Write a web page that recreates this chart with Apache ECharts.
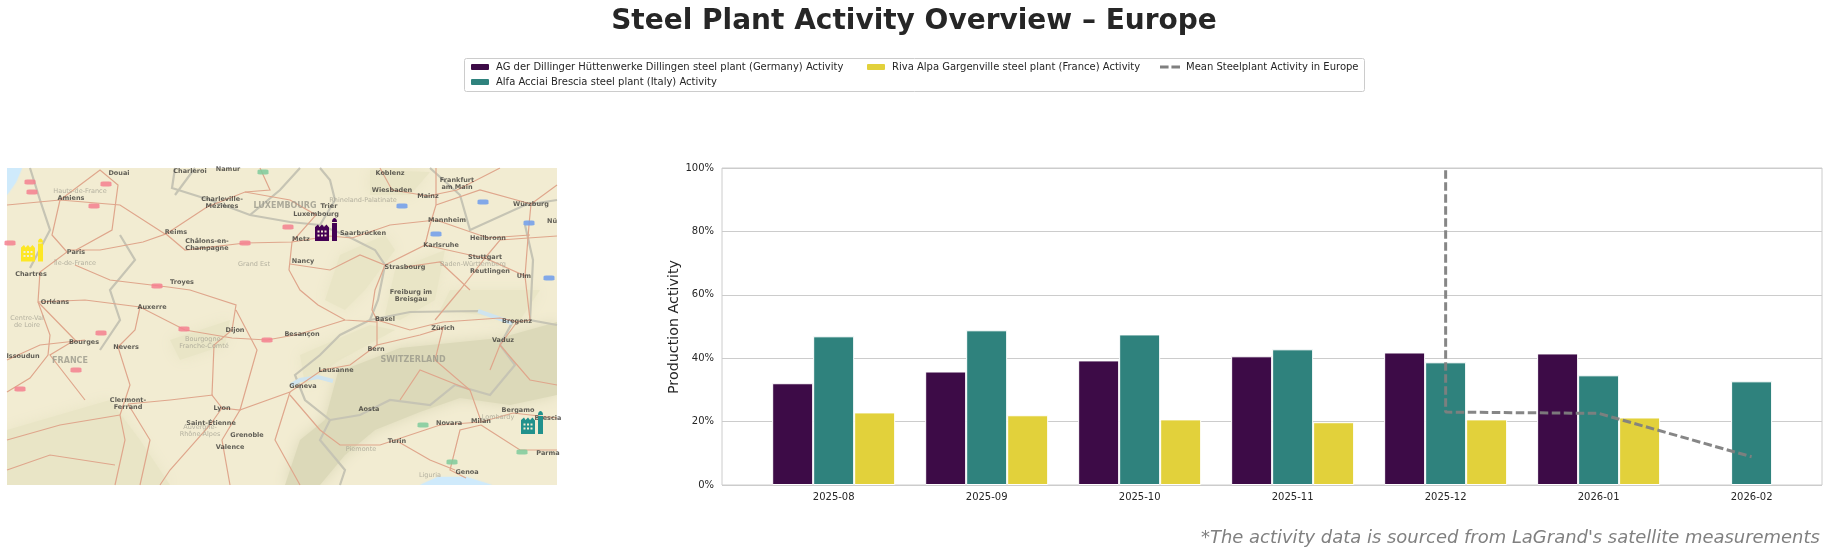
<!DOCTYPE html>
<html>
<head>
<meta charset="utf-8">
<style>html,body{margin:0;padding:0;background:#fff}#c{width:1828px;height:554px}</style>
<script src="https://cdn.jsdelivr.net/npm/echarts@6/dist/echarts.min.js"></script>
</head>
<body>
<div id="c"></div>
<script>
const months = ['2025-08','2025-09','2025-10','2025-11','2025-12','2026-01','2026-02'];
const dillinger = [32.1,35.8,39.3,40.6,41.8,41.5,null];
const brescia = [46.9,48.8,47.5,42.8,38.7,34.6,32.7];
const gargenville = [22.9,22.0,20.7,19.8,20.7,21.3,null];
const meanActivity = [[4,99.3],[4,23.0],[5,22.6],[6,8.9]];
const nameA = 'AG der Dillinger Hüttenwerke Dillingen steel plant (Germany) Activity';
const nameB = 'Alfa Acciai Brescia steel plant (Italy) Activity';
const nameC = 'Riva Alpa Gargenville steel plant (France) Activity';
const nameM = 'Mean Steelplant Activity in Europe';

// Map content in the map panel's own units
const cityLabels = [['Amiens',71,198],['Douai',119,173],['Charleroi',190,171],['Namur',228,169],['Reims',176,232],
['Charleville-\nMézières',222,203],['Trier',329,206],['Luxembourg',316,214],['Metz',301,239],['Saarbrücken',363,233],
['Paris',76,252],['Châlons-en-\nChampagne',207,245],['Nancy',303,261],['Strasbourg',405,267],['Chartres',31,274],
['Troyes',182,282],['Orléans',55,302],['Auxerre',152,307],['Dijon',235,330],['Besançon',302,334],['Bourges',84,342],
['Nevers',126,347],['Issoudun',23,356],['Bern',376,349],['Lausanne',336,370],['Geneva',303,386],
['Clermont-\nFerrand',128,404],['Lyon',222,408],['Aosta',369,409],['Saint-Étienne',211,423],['Valence',230,447],
['Grenoble',247,435],['Turin',397,441],['Milan',481,421],['Novara',449,423],['Genoa',467,472],['Bergamo',518,410],
['Brescia',548,418],['Parma',548,453],['Koblenz',390,173],['Frankfurt\nam Main',457,184],['Wiesbaden',392,190],
['Mainz',428,196],['Würzburg',531,204],['Mannheim',447,220],['Nü',552,221],['Heilbronn',488,238],['Karlsruhe',441,245],
['Stuttgart',485,257],['Reutlingen',490,271],['Ulm',524,276],['Freiburg im\nBreisgau',411,296],['Basel',385,319],
['Zürich',443,328],['Bregenz',517,321],['Vaduz',503,340]];
const regionLabels = [['Hauts-de-France',80,191],['Île-de-France',75,263],['Grand Est',254,264],['Centre-Val\nde Loire',27,322],
['Bourgogne-\nFranche-Comté',204,343],['Auvergne-\nRhône-Alpes',200,431],['Rhineland-Palatinate',363,200],
['Baden-Württemberg',473,264],['Piemonte',361,449],['Lombardy',498,417],['Liguria',430,475]];
const countryLabels = [['LUXEMBOURG',285,206],['FRANCE',70,361],['SWITZERLAND',413,360]];
const redShields = [[30,182],[32,192],[106,184],[94,206],[10,243],[288,227],[245,243],[157,286],[101,333],[184,329],[267,340],[76,370],[20,389]];
const blueShields = [[402,206],[483,202],[529,223],[436,234],[549,278]];
const greenShields = [[263,172],[423,425],[452,462],[522,452]];
const terrainHigh = [
 [[325,420],[338,372],[400,348],[500,338],[557,322],[557,395],[510,405],[460,398],[420,412],[375,430],[345,455],[320,485],[285,485],[300,440]]
];
const terrainLow = [
 [[340,255],[385,235],[395,250],[365,290],[345,310],[325,300]],
 [[395,270],[445,250],[435,300],[400,320],[385,315]],
 [[300,355],[370,325],[395,330],[340,360],[305,385]],
 [[7,430],[110,400],[140,440],[170,485],[7,485]],
 [[170,340],[230,320],[225,345],[180,360]],
 [[370,170],[430,172],[410,195],[370,195]],
 [[450,290],[540,290],[520,320],[440,310]]
];
const waterAreas = [
 [[7,168],[22,168],[16,182],[7,195]],
 [[420,485],[438,477],[466,477],[492,485]]
];
const lakes = [
 [[291,385],[300,380],[318,377],[333,381]],
 [[478,311],[495,317],[512,323]]
];
const roads = [
 [[70,250],[100,250],[143,242],[166,234],[185,250],[245,243],[292,242],[330,236],[352,238],[390,225],[436,220]],
 [[166,234],[207,207],[245,192],[290,200],[316,215],[292,242],[289,270],[300,290],[318,305],[345,320],[377,322]],
 [[60,200],[52,235],[67,252],[40,272],[38,302],[50,335],[48,355],[30,378],[7,392]],
 [[60,200],[100,170],[118,185],[112,230],[76,250]],
 [[7,205],[60,200],[120,205],[165,234]],
 [[75,265],[110,280],[168,287],[190,290],[236,305],[232,330],[214,345],[212,395],[222,408],[240,410],[257,350],[236,310]],
 [[38,302],[85,300],[140,307],[185,330],[232,338],[267,340],[300,334],[345,320]],
 [[140,307],[135,330],[118,347],[130,385],[120,415],[125,440],[115,485]],
 [[38,302],[75,340],[50,355],[85,400]],
 [[290,264],[330,270],[360,255],[385,265],[425,245],[430,225],[436,205],[436,168]],
 [[385,265],[375,290],[372,310],[377,320],[410,330],[430,325],[443,322],[500,318],[517,322],[500,345],[490,370]],
 [[377,345],[350,365],[322,370],[290,392],[240,410],[222,440],[230,485]],
 [[377,320],[377,345],[420,335],[443,328],[435,360],[470,390],[481,421]],
 [[481,422],[440,425],[380,445],[340,445],[320,430],[290,395]],
 [[481,422],[513,413],[557,418]],
 [[481,425],[460,430],[450,470],[466,478]],
 [[481,425],[520,450],[557,450]],
 [[397,441],[430,460],[455,470]],
 [[425,245],[470,255],[485,258],[500,240],[557,236]],
 [[485,258],[460,290],[435,320]],
 [[485,258],[525,276],[530,320],[517,322]],
 [[525,276],[529,225],[531,204],[557,185]],
 [[436,205],[480,190],[531,204]],
 [[436,220],[488,238],[530,235]],
 [[380,168],[392,190],[428,196],[457,190],[500,168]],
 [[222,408],[210,425],[170,470],[160,485]],
 [[128,404],[170,400],[213,395]],
 [[290,392],[275,440],[300,485]],
 [[405,267],[440,262],[470,290]],
 [[128,404],[150,440],[140,485]],
 [[7,440],[60,425],[120,415]],
 [[260,168],[270,190],[245,192]],
 [[85,340],[40,345],[7,360]],
 [[500,345],[530,380],[557,385]],
 [[400,400],[420,370],[470,390]],
 [[7,470],[50,455],[115,465]]
];
const borders = [
 [[175,168],[172,188],[210,200],[250,215],[290,222],[320,225],[345,235],[375,250],[385,265],[378,300],[370,320],[340,335],[320,355],[295,375],[305,400],[330,420],[320,440],[345,470],[340,485]],
 [[250,215],[280,190],[300,168]],
 [[320,225],[335,200],[330,180],[320,168]],
 [[370,320],[410,312],[478,311],[512,323],[500,345],[515,365],[490,395],[455,385],[430,405],[390,400],[360,415],[330,420]],
 [[30,168],[40,200],[50,230],[30,268]],
 [[120,235],[135,260],[110,290],[120,320],[100,350]],
 [[195,168],[175,195]],
 [[430,168],[460,195],[470,230],[525,205],[557,200]],
 [[525,225],[533,260],[530,320],[557,325]]
];
const plantIcons = [
 {name:'Dillingen',value:[326,229.5],color:'#440154'},
 {name:'Gargenville',value:[32,250],color:'#fde725'},
 {name:'Brescia',value:[532,422.5],color:'#21918c'}
];
const factoryPath = 'path://M0 23V9L3 6.5 4.5 9 7 6.5 9 9 11.5 6.5 14 9.5V23ZM2.5 12.5V14.5H4.5V12.5ZM6 12.5V14.5H8V12.5ZM9.5 12.5V14.5H11.5V12.5ZM2.5 16.5V18.5H4.5V16.5ZM6 16.5V18.5H8V16.5ZM9.5 16.5V18.5H11.5V16.5ZM17 23V5H22V23ZM17 4C17 1 18.5 0 19.5 0S22 1 22 4Z';

const xy = arr => arr.map((v,i)=>[i,v]);
const barSeries = (name,vals,color)=>({name,type:'bar',data:xy(vals),barWidth:41,barGap:0,xAxisIndex:0,yAxisIndex:0,z:2,
  itemStyle:{color,borderColor:'#fff',borderWidth:1}});
const polySeries = (polys,fill,blur)=>({type:'custom',xAxisIndex:1,yAxisIndex:1,clip:true,silent:true,z:1,
  data:polys.map(p=>p[0]),
  renderItem:(params,api)=>({type:'polygon',shape:{points:polys[params.dataIndex].map(p=>api.coord(p))},
    style:{fill,shadowBlur:blur,shadowColor:fill}})});
const lineSeries = (paths,color,width,z)=>({type:'lines',coordinateSystem:'cartesian2d',xAxisIndex:1,yAxisIndex:1,polyline:true,silent:true,z,
  lineStyle:{color,width,opacity:1},data:paths.map(p=>({coords:p}))});
const labelSeries = (rows,color,font,weight,z)=>({type:'scatter',xAxisIndex:1,yAxisIndex:1,symbolSize:0,silent:true,z,
  data:rows.map(r=>({name:r[0],value:[r[1],r[2]]})),
  label:{show:true,position:'inside',formatter:'{b}',color,fontSize:font,fontWeight:weight,fontFamily:'DejaVu Sans',lineHeight:font+0.5}});
const shieldSeries = (pts,color)=>({type:'scatter',xAxisIndex:1,yAxisIndex:1,symbol:'roundRect',symbolSize:[11,5],silent:true,z:5,
  itemStyle:{color,opacity:0.85},data:pts});

const legendBase = {orient:'vertical',itemWidth:20,itemHeight:8,itemGap:5,padding:0,
  textStyle:{fontFamily:'DejaVu Sans',fontSize:10,color:'#262626',padding:[0,0,0,1]},selectedMode:false};

const chart = echarts.init(document.getElementById('c'));
chart.setOption({
  animation:false,
  backgroundColor:'#fff',
  title:[
   {text:'Steel Plant Activity Overview – Europe',left:914,textAlign:'center',top:8,padding:0,
    textStyle:{fontFamily:'DejaVu Sans',fontWeight:'bold',fontSize:28,color:'#262626'}},
   {text:"*The activity data is sourced from LaGrand's satellite measurements",left:1201,top:529,padding:0,
    textStyle:{fontFamily:'DejaVu Sans',fontStyle:'italic',fontWeight:'normal',fontSize:17.95,color:'#808080'}}
  ],
  graphic:[
   {type:'rect',z:-1,shape:{x:464.5,y:58.5,width:900,height:33,r:2},style:{fill:'#fff',stroke:'#cccccc',lineWidth:1}},
   {type:'text',x:674,y:327,rotation:Math.PI/2,z:5,
    style:{text:'Production Activity',fill:'#262626',font:'14.3px "DejaVu Sans"',textAlign:'center',textVerticalAlign:'middle',verticalAlign:'middle'}}
  ],
  legend:[
   Object.assign({},legendBase,{left:469,top:62,data:[nameA,nameB]}),
   Object.assign({},legendBase,{left:865,top:62,data:[nameC]}),
   Object.assign({},legendBase,{left:1160,top:62,itemHeight:3,data:[{name:nameM,icon:'path://M0 0H9V3H0ZM12 0H21V3H12Z'}]})
  ],
  grid:[
   {left:722,top:168,width:1100,height:317,show:true,borderColor:'#cccccc',borderWidth:1,backgroundColor:'#fff'},
   {left:7,top:168,width:550,height:317,show:true,borderWidth:0,backgroundColor:'#f2ecd2'}
  ],
  xAxis:[
   {type:'value',gridIndex:0,min:-0.73,max:6.46,interval:0.01,splitLine:{show:false},axisLine:{show:false},axisTick:{show:false},
    axisLabel:{showMinLabel:false,showMaxLabel:false,fontFamily:'DejaVu Sans',fontSize:10,color:'#262626',margin:7,
      formatter:v=>{const r=Math.round(v);return Math.abs(v-r)<1e-6&&months[r]?months[r]:'';}}},
   {type:'value',gridIndex:1,min:7,max:557,show:false,splitLine:{show:false}}
  ],
  yAxis:[
   {type:'value',gridIndex:0,min:0,max:100,interval:20,
    axisLine:{show:false},axisTick:{show:false},splitLine:{lineStyle:{color:'#cccccc',width:1}},
    axisLabel:{formatter:'{value}%',fontFamily:'DejaVu Sans',fontSize:10,color:'#262626',margin:8}},
   {type:'value',gridIndex:1,min:168,max:485,inverse:true,show:false,splitLine:{show:false}}
  ],
  series:[
   polySeries(terrainLow,'#e9e5c6',14),
   polySeries(terrainHigh,'#dcd9b9',14),
   polySeries(waterAreas,'#cfeafb',2),
   lineSeries(borders,'#c6c4b4',2.2,2),
   lineSeries(lakes,'#cfe4ee',4,3),
   lineSeries(roads,'#dfa68c',1.2,3),
   shieldSeries(redShields,'#f4808f'),
   shieldSeries(blueShields,'#6f9cec'),
   shieldSeries(greenShields,'#7fcb9c'),
   labelSeries(regionLabels,'#a5a293',6.5,'normal',6),
   labelSeries(countryLabels,'#9a988b',8,'bold',6),
   labelSeries(cityLabels,'#3b3a36',6.5,'bold',7),
   {type:'scatter',xAxisIndex:1,yAxisIndex:1,symbol:factoryPath,symbolSize:[22,23],silent:true,z:9,
    data:plantIcons.map(p=>({name:p.name,value:p.value,itemStyle:{color:p.color,opacity:1}}))},
   barSeries(nameA,dillinger,'#3d0b47'),
   barSeries(nameB,brescia,'#2f827d'),
   barSeries(nameC,gargenville,'#e2d13b'),
   {name:nameM,type:'line',data:meanActivity,xAxisIndex:0,yAxisIndex:0,showSymbol:false,symbol:'none',z:5,
    lineStyle:{color:'#808080',width:3,type:[8.5,3.5],opacity:0.95},itemStyle:{color:'#808080'}}
  ]
});
</script>
</body>
</html>
